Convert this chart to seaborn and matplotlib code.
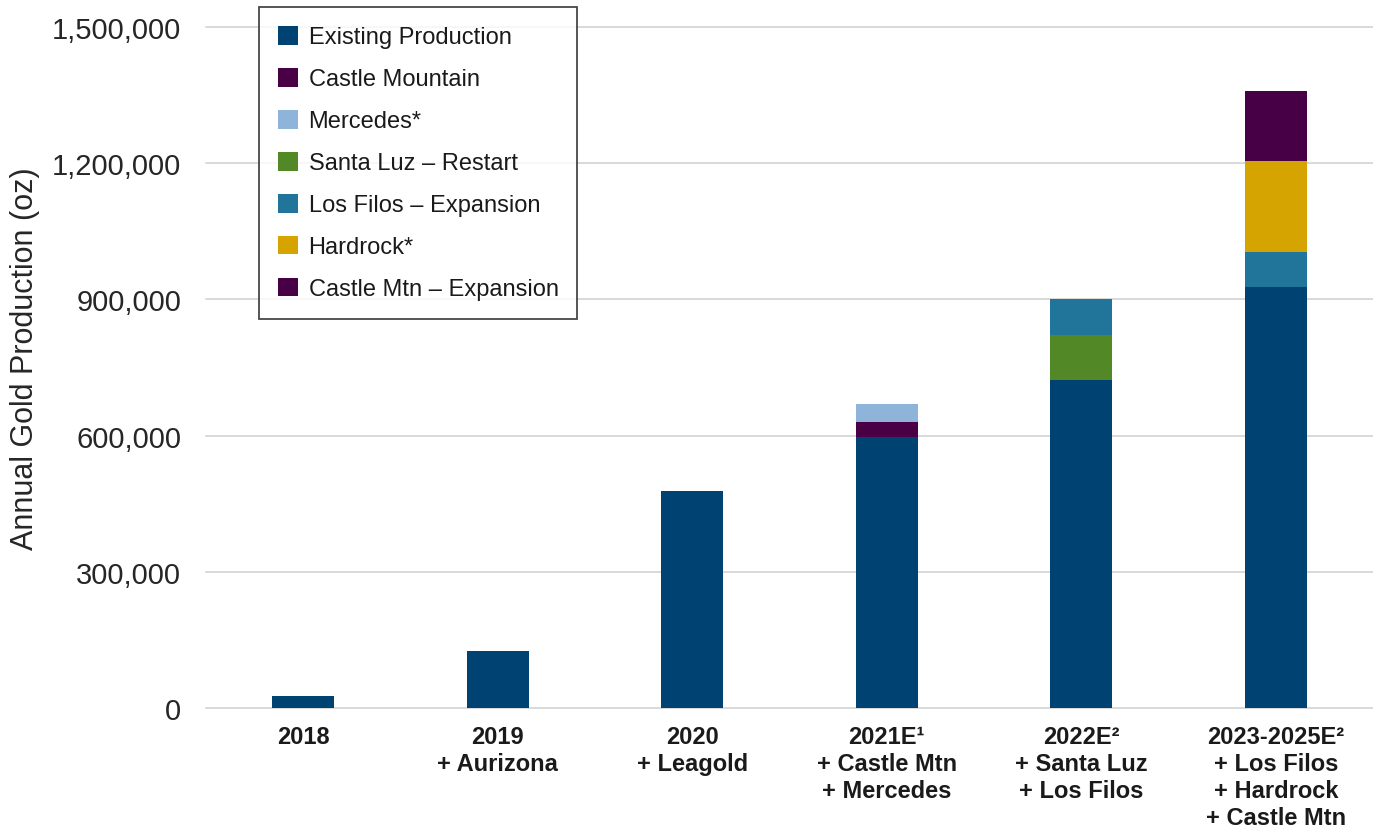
import numpy as np
import pandas as pd
import matplotlib
matplotlib.use("Agg")
import matplotlib.pyplot as plt
import seaborn as sns
from matplotlib.patches import Patch
from matplotlib.ticker import FuncFormatter

# data (oz)
periods = ["2018", "2019", "2020", "2021E", "2022E", "2023-2025E"]
tick_labels = [
    "2018",
    "2019\n+ Aurizona",
    "2020\n+ Leagold",
    "2021E\u00b9\n+ Castle Mtn\n+ Mercedes",
    "2022E\u00b2\n+ Santa Luz\n+ Los Filos",
    "2023-2025E\u00b2\n+ Los Filos\n+ Hardrock\n+ Castle Mtn",
]
series_names = [
    "Existing Production",
    "Castle Mountain",
    "Mercedes*",
    "Santa Luz \u2013 Restart",
    "Los Filos \u2013 Expansion",
    "Hardrock*",
    "Castle Mtn \u2013 Expansion",
]
existing = [27000, 127000, 479000, 596000, 722000, 928000]
castle_mountain = [0, 0, 0, 34000, 0, 0]
mercedes = [0, 0, 0, 40000, 0, 0]
santa_luz = [0, 0, 0, 0, 100000, 0]
los_filos = [0, 0, 0, 0, 79000, 76000]
hardrock = [0, 0, 0, 0, 0, 200000]
castle_mtn_exp = [0, 0, 0, 0, 0, 154000]

colors = ["#004271", "#4A0045", "#8FB4D9", "#538826", "#22759A", "#D6A400", "#470045"]

layers = [existing, castle_mountain, mercedes, santa_luz, los_filos, hardrock, castle_mtn_exp]
cum = np.cumsum(np.array(layers, dtype=float), axis=0)

sns.set_theme(style="white")
plt.rcParams["font.family"] = ["Liberation Sans", "DejaVu Sans"]

fig = plt.figure(figsize=(13.73, 8.29), dpi=100)
ax = fig.add_axes([206 / 1373, (829 - 709.3) / 829, 1167 / 1373, 681.7 / 829])

# stacked bars: draw cumulative totals from the top layer down
for i in range(len(layers) - 1, -1, -1):
    df = pd.DataFrame({"period": periods, "value": cum[i]})
    sns.barplot(data=df, x="period", y="value", color=colors[i], width=0.317,
                saturation=1, ax=ax, zorder=3, linewidth=0)

ax.set_xlim(-0.5, 5.5)
ax.set_ylim(0, 1500000)
ax.set_yticks(np.arange(0, 1500001, 300000))
ax.yaxis.set_major_formatter(FuncFormatter(lambda v, p: f"{int(v):,}"))
ax.grid(axis="y", color="#D9D9D9", linewidth=1.4, zorder=0)
ax.grid(axis="x", visible=False)
for gl in ax.get_ygridlines():
    gl.set_clip_on(False)
for s in ax.spines.values():
    s.set_visible(False)

ax.tick_params(axis="y", length=0, pad=18, labelsize=21, labelcolor="#262626")
ax.tick_params(axis="x", length=0, pad=12)
ax.set_xticks(range(len(periods)))
ax.set_xticklabels(tick_labels, fontsize=17, fontweight="bold", color="#1a1a1a",
                   linespacing=1.23, ha="center", multialignment="center")

ax.set_xlabel("")
ax.set_ylabel("Annual Gold Production (oz)", fontsize=22, color="#262626", va="center")
ax.yaxis.set_label_coords(-0.155, 0.515)

handles = [Patch(facecolor=c, edgecolor="none") for c in colors]
leg = ax.legend(handles, series_names, loc="upper left",
                bbox_to_anchor=(259 / 1373, 1 - 8 / 829), bbox_transform=fig.transFigure,
                borderaxespad=0, fontsize=17, frameon=True, fancybox=False,
                handlelength=0.85, handleheight=0.85, handletextpad=0.45,
                labelspacing=0.82, borderpad=0.8)
leg.get_frame().set_edgecolor("#1a1a1a")
leg.get_frame().set_linewidth(1.3)
for t in leg.get_texts():
    t.set_color("#1a1a1a")

fig.savefig("out.png", dpi=100)
